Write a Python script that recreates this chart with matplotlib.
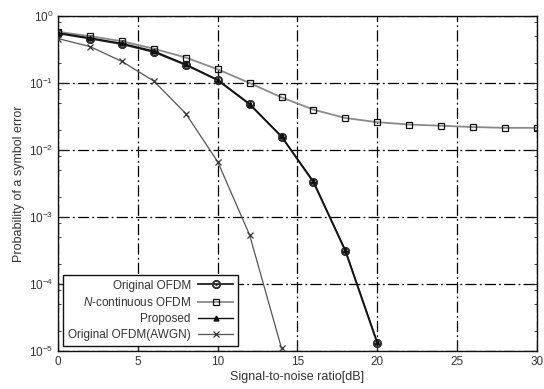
import matplotlib
matplotlib.use("Agg")
import matplotlib.pyplot as plt
from matplotlib.ticker import LogLocator, NullFormatter, FixedLocator

plt.rcParams['font.family'] = ['Liberation Sans', 'DejaVu Sans']
plt.rcParams['mathtext.fontset'] = 'custom'
plt.rcParams['mathtext.rm'] = 'Liberation Sans'
plt.rcParams['mathtext.it'] = 'Liberation Sans:italic'
plt.rcParams['mathtext.bf'] = 'Liberation Sans:bold'

# Data
snr_orig = [0, 2, 4, 6, 8, 10, 12, 14, 16, 18, 20]
ser_orig = [0.55, 0.46, 0.38, 0.29, 0.186, 0.11, 0.048, 0.0158, 0.0033, 0.00031, 1.3e-5]
ser_prop = [0.56, 0.47, 0.39, 0.30, 0.19, 0.112, 0.049, 0.016, 0.0034, 0.00032, 1.35e-5]

snr_ncont = [0, 2, 4, 6, 8, 10, 12, 14, 16, 18, 20, 22, 24, 26, 28, 30]
ser_ncont = [0.58, 0.50, 0.42, 0.325, 0.24, 0.16, 0.10, 0.061, 0.040, 0.030, 0.026,
             0.024, 0.023, 0.022, 0.0214, 0.0214]

snr_awgn = [0, 2, 4, 6, 8, 10, 12, 14]
ser_awgn = [0.46, 0.35, 0.21, 0.107, 0.035, 0.0067, 0.00054, 1.1e-5]

labels = ['Original OFDM', r'$\it{N}$-continuous OFDM', 'Proposed', 'Original OFDM(AWGN)']

fig = plt.figure(figsize=(5.44, 3.89), dpi=100)
ax = fig.add_axes([0.1066, 0.0977, 0.8805, 0.8612])

ax.plot(snr_orig, ser_orig, color='#222222', lw=1.3, marker=r'$\odot$', ms=5.5,
        mec='#333333', label=labels[0], zorder=3)
ax.plot(snr_ncont, ser_ncont, color='#8a8a8a', lw=1.3, marker='s', ms=5,
        mfc='none', mec='#111111', mew=0.9, label=labels[1], zorder=3)
ax.plot(snr_orig, ser_prop, color='#111111', lw=1.0, marker='^', ms=3.5,
        mfc='#111111', mec='#111111', label=labels[2], zorder=4)
ax.plot(snr_awgn, ser_awgn, color='#555555', lw=0.9, marker='x', ms=4.5,
        mec='#333333', mew=0.9, label=labels[3], zorder=3)

ax.set_yscale('log')
ax.set_xlim(0, 30)
ax.set_ylim(1e-5, 1)
ax.xaxis.set_major_locator(FixedLocator([0, 5, 10, 15, 20, 25, 30]))
ax.yaxis.set_major_locator(LogLocator(base=10, numticks=10))
ax.yaxis.set_minor_locator(LogLocator(base=10, subs=[2, 5, 8], numticks=10))
ax.yaxis.set_minor_formatter(NullFormatter())

ax.grid(True, which='major', color='black', linestyle=(0, (9, 2.5, 1.5, 2.5)), lw=0.9)
ax.tick_params(which='both', direction='in', right=True, top=False,
               labelsize=8.5, labelcolor='#333333', color='#222222')
ax.tick_params(which='major', length=4)
ax.tick_params(which='minor', length=2.5)
for s in ax.spines.values():
    s.set_color('#111111')
    s.set_linewidth(1.0)

ax.set_xlabel('Signal-to-noise ratio[dB]', fontsize=9, color='#333333', labelpad=2)
ax.set_ylabel('Probability of a symbol error', fontsize=9, color='#333333', labelpad=3)

leg = ax.legend(loc='lower left', markerfirst=False, fontsize=8.5, frameon=True,
                fancybox=False, edgecolor='#111111', framealpha=1,
                handlelength=3.0, labelspacing=0.35, borderaxespad=0.45,
                handletextpad=0.6, borderpad=0.4)
leg.get_frame().set_linewidth(1.0)
for t in leg.get_texts():
    t.set_color('#333333')

fig.savefig('out.png', dpi=100)
